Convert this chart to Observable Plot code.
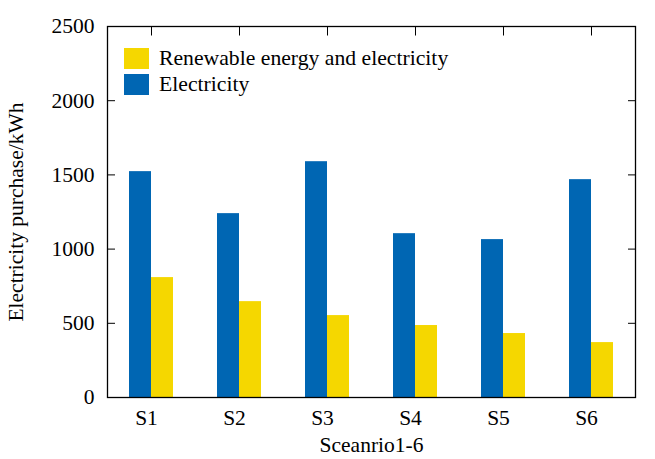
<!DOCTYPE html>
<html><head><meta charset="utf-8">
<script src="https://cdn.jsdelivr.net/npm/d3@7"></script>
<script src="https://cdn.jsdelivr.net/npm/@observablehq/plot@0.6"></script>
<style>
body{margin:0;background:#fff;}
#wrap{position:relative;width:655px;height:459px;font-family:"Liberation Serif","Times New Roman",serif;}
.legend{position:absolute;left:124px;top:45px;font-size:21.7px;color:#000;}
.legend .row{display:flex;align-items:center;height:26px;}
.legend .sw{width:25px;height:21px;margin-right:10px;}
</style></head><body><div id="wrap"></div>
<script>
const scenarios = ["S1","S2","S3","S4","S5","S6"];
const electricity = [1522,1239,1589,1104,1064,1468];
const renewable = [808,646,552,485,431,370];
const seriesNames = ["Electricity","Renewable energy and electricity"];
const seriesColors = ["#0066B3","#F5D700"];
const legendOrder = ["Renewable energy and electricity","Electricity"];
const yTicks = [0,500,1000,1500,2000,2500];

const data = scenarios.flatMap((s,i)=>[
  {scenario:s, series:seriesNames[0], value:electricity[i]},
  {scenario:s, series:seriesNames[1], value:renewable[i]}
]);

const plot = Plot.plot({
  width:655, height:459,
  marginLeft:105, marginRight:19, marginTop:26, marginBottom:62,
  style:{fontFamily:"Liberation Serif, Times New Roman, serif", fontSize:"21.5px", background:"#fff", color:"#000", overflow:"visible"},
  fx:{domain:scenarios, padding:0},
  x:{domain:seriesNames, paddingInner:0, paddingOuter:1, axis:null},
  y:{domain:[0,2500]},
  color:{domain:seriesNames, range:seriesColors},
  marks:[
    Plot.barY(data,{fx:"scenario", x:"series", y:"value", fill:"series"}),
    Plot.frame({facet:"super", stroke:"#000", strokeWidth:1.3}),
    Plot.axisY({anchor:"left", ticks:yTicks, tickSize:-8, tickPadding:21, tickFormat:d=>String(d),
      label:"Electricity purchase/kWh", labelAnchor:"center", labelArrow:"none", labelOffset:100, fontSize:21.5}),
    Plot.axisY({anchor:"right", ticks:yTicks, tickSize:-8, tickFormat:()=>"", label:null}),
    Plot.axisFx({anchor:"top", tickSize:-8.5, tickFormat:()=>"", label:null}),
    Plot.axisFx({anchor:"bottom", tickSize:0, tickPadding:12, label:"Sceanrio1-6", labelAnchor:"center", labelArrow:"none", labelOffset:54, dx:-5, fontSize:21.5})
  ]
});
const wrap = document.getElementById("wrap");
wrap.appendChild(plot);

const legend = document.createElement("div");
legend.className = "legend";
legendOrder.forEach(name=>{
  const row = document.createElement("div"); row.className="row";
  const sw = document.createElement("div"); sw.className="sw";
  sw.style.background = seriesColors[seriesNames.indexOf(name)];
  const t = document.createElement("span"); t.textContent = name;
  row.appendChild(sw); row.appendChild(t); legend.appendChild(row);
});
wrap.appendChild(legend);
</script></body></html>
